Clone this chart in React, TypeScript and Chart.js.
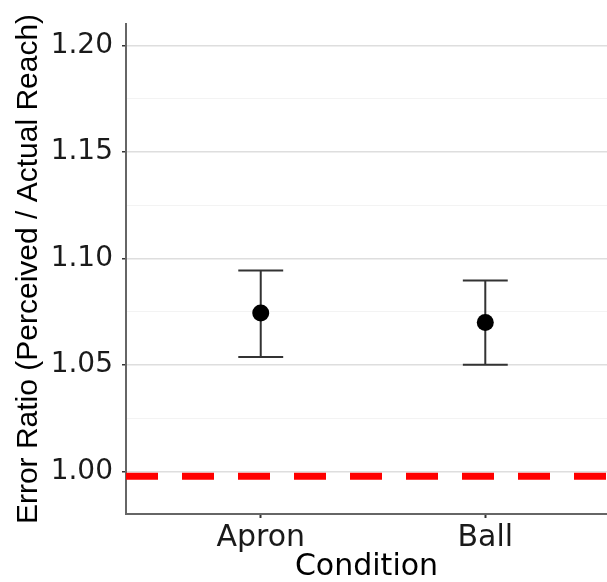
import React, { useEffect, useRef } from 'react';
import { Chart, registerables } from 'chart.js';

Chart.register(...registerables);

const conditions = ['Apron', 'Ball'];
const conditionPositions = [1, 2];
const meanRatio = [1.0743, 1.0699];
const upperCI = [1.0943, 1.0896];
const lowerCI = [1.0537, 1.05];
const referenceRatio = 0.9977;
const yMajorTicks = [1.0, 1.05, 1.1, 1.15, 1.2];
const yMinorTicks = [1.025, 1.075, 1.125, 1.175];
const yRange = [0.98, 1.21];
const xRange = [0.4, 2.542];
const errorBarWidth = 0.2;

const isMajor = (v: number) => yMajorTicks.some((t) => Math.abs(t - v) < 1e-9);

const errorBarPlugin = {
  id: 'errorBars',
  beforeDatasetsDraw(chart: any) {
    const { ctx, scales } = chart;
    const x = scales.x;
    const y = scales.y;
    ctx.save();
    ctx.strokeStyle = '#333333';
    ctx.lineWidth = 2;
    conditionPositions.forEach((pos, i) => {
      const cx = x.getPixelForValue(pos);
      const x0 = x.getPixelForValue(pos - errorBarWidth / 2);
      const x1 = x.getPixelForValue(pos + errorBarWidth / 2);
      const yu = y.getPixelForValue(upperCI[i]);
      const yl = y.getPixelForValue(lowerCI[i]);
      ctx.beginPath();
      ctx.moveTo(cx, yu);
      ctx.lineTo(cx, yl);
      ctx.moveTo(x0, yu);
      ctx.lineTo(x1, yu);
      ctx.moveTo(x0, yl);
      ctx.lineTo(x1, yl);
      ctx.stroke();
    });
    ctx.restore();
  },
};

export default function App() {
  const canvasRef = useRef<HTMLCanvasElement | null>(null);

  useEffect(() => {
    if (!canvasRef.current) return;
    const chart = new Chart(canvasRef.current, {
      type: 'scatter',
      data: {
        datasets: [
          {
            type: 'line',
            data: [
              { x: xRange[0], y: referenceRatio },
              { x: xRange[1], y: referenceRatio },
            ],
            borderColor: '#ff0000',
            borderWidth: 7,
            borderDash: [32, 24],
            pointRadius: 0,
            fill: false,
          } as any,
          {
            data: conditionPositions.map((p, i) => ({ x: p, y: meanRatio[i] })),
            backgroundColor: '#000000',
            borderColor: '#000000',
            pointRadius: 8.5,
            borderWidth: 0,
          },
        ],
      },
      options: {
        animation: false,
        responsive: false,
        layout: { autoPadding: false, padding: { top: 24, right: 0, left: 0, bottom: 0 } },
        plugins: { legend: { display: false }, tooltip: { enabled: false } },
        scales: {
          x: {
            type: 'linear',
            min: xRange[0],
            max: xRange[1],
            afterBuildTicks: (s: any) => {
              s.ticks = conditionPositions.map((v) => ({ value: v }));
            },
            afterFit: (s: any) => {
              s.height = 68;
              s.paddingLeft = 0;
              s.paddingRight = 0;
            },
            ticks: {
              callback: (v: any) => {
                const idx = conditionPositions.indexOf(Number(v));
                return idx >= 0 ? conditions[idx] : '';
              },
              font: { family: 'DejaVu Sans', size: 30 },
              color: '#1a1a1a',
              padding: 2,
              autoSkip: false,
              maxRotation: 0,
            },
            grid: {
              drawOnChartArea: false,
              drawTicks: true,
              tickLength: 4,
              tickColor: '#333333',
              tickWidth: 2,
            },
            border: { color: '#666666', width: 2 },
            title: {
              display: true,
              text: 'Condition',
              font: { family: 'DejaVu Sans', size: 30, lineHeight: 1.0 },
              color: '#000000',
              padding: { top: 0, bottom: 0 },
            },
          },
          y: {
            type: 'linear',
            min: yRange[0],
            max: yRange[1],
            afterBuildTicks: (s: any) => {
              s.ticks = [...yMajorTicks, ...yMinorTicks]
                .sort((a, b) => a - b)
                .map((v) => ({ value: v }));
            },
            afterFit: (s: any) => {
              s.width = 126;
              s.paddingTop = 0;
              s.paddingBottom = 0;
            },
            ticks: {
              callback: (v: any) => (isMajor(Number(v)) ? Number(v).toFixed(2) : ''),
              font: { family: 'DejaVu Sans', size: 28 },
              color: '#1a1a1a',
              padding: 9,
              autoSkip: false,
            },
            grid: {
              color: (c: any) => (isMajor(c.tick.value) ? '#dedede' : '#f3f3f3'),
              lineWidth: (c: any) => (isMajor(c.tick.value) ? 1.5 : 1),
              tickColor: (c: any) => (isMajor(c.tick.value) ? '#333333' : 'rgba(0,0,0,0)'),
              tickLength: 4,
              tickWidth: 1.5,
            },
            border: { color: '#666666', width: 2 },
            title: {
              display: true,
              text: 'Error Ratio (Perceived / Actual Reach)',
              font: { family: 'Liberation Sans', size: 30 },
              color: '#000000',
              padding: { top: 11, bottom: 0 },
            },
          },
        },
      } as any,
      plugins: [errorBarPlugin],
    });
    return () => chart.destroy();
  }, []);

  return (
    <div
      style={{
        position: 'absolute',
        left: 0,
        top: 0,
        width: 607,
        height: 582,
        background: '#ffffff',
      }}
    >
      <canvas ref={canvasRef} width={607} height={582} />
    </div>
  );
}
